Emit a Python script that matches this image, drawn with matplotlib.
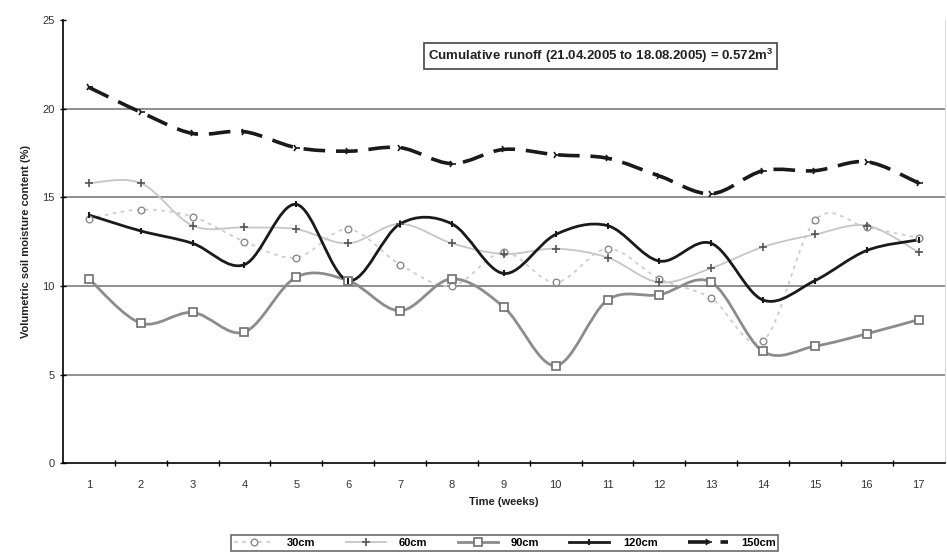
import numpy as np
import matplotlib
matplotlib.use("Agg")
import matplotlib.pyplot as plt
from matplotlib.path import Path
from matplotlib.patches import PathPatch
from matplotlib.lines import Line2D

weeks = list(range(1, 18))
s30 = [13.8, 14.3, 13.9, 12.5, 11.6, 13.2, 11.2, 10.0, 11.9, 10.2, 12.1, 10.4, 9.3, 6.9, 13.7, 13.3, 12.7]
s60 = [15.8, 15.8, 13.4, 13.3, 13.2, 12.4, 13.5, 12.4, 11.8, 12.1, 11.6, 10.2, 11.0, 12.2, 12.9, 13.4, 11.9]
s90 = [10.4, 7.9, 8.5, 7.4, 10.5, 10.3, 8.6, 10.4, 8.8, 5.5, 9.2, 9.5, 10.2, 6.3, 6.6, 7.3, 8.1]
s120 = [14.0, 13.1, 12.4, 11.2, 14.6, 10.3, 13.5, 13.5, 10.7, 12.9, 13.4, 11.4, 12.4, 9.2, 10.3, 12.0, 12.6]
s150 = [21.2, 19.8, 18.6, 18.7, 17.8, 17.6, 17.8, 16.9, 17.7, 17.4, 17.2, 16.2, 15.2, 16.5, 16.5, 17.0, 15.8]
labels = ["30cm", "60cm", "90cm", "120cm", "150cm"]
yticks = [0, 5, 10, 15, 20, 25]
note = "Cumulative runoff (21.04.2005 to 18.08.2005) = 0.572m$^3$"

plt.rcParams['font.family'] = ['Liberation Sans', 'DejaVu Sans']
plt.rcParams['mathtext.fontset'] = 'custom'
plt.rcParams['mathtext.rm'] = 'Liberation Sans:bold'
plt.rcParams['mathtext.default'] = 'rm'

fig = plt.figure(figsize=(9.47, 5.56), dpi=100)
ax = fig.add_axes([0.0665, 0.167, 0.931, 0.797])


def smooth_path(x, y):
    # Excel-like smoothed line: cubic Bezier segments with Catmull-Rom control points
    x = np.asarray(x, float); y = np.asarray(y, float)
    n = len(x)
    verts = [(x[0], y[0])]
    codes = [Path.MOVETO]
    for i in range(n - 1):
        p0 = np.array([x[max(i - 1, 0)], y[max(i - 1, 0)]])
        p1 = np.array([x[i], y[i]])
        p2 = np.array([x[i + 1], y[i + 1]])
        p3 = np.array([x[min(i + 2, n - 1)], y[min(i + 2, n - 1)]])
        c1 = p1 + (p2 - p0) / 6.0
        c2 = p2 - (p3 - p1) / 6.0
        verts += [tuple(c1), tuple(c2), tuple(p2)]
        codes += [Path.CURVE4] * 3
    return Path(verts, codes)


styles = [
    dict(color='#cdcdcd', lw=1.3, ls=(0, (2, 2.5)), marker='o', ms=4.8, mfc='white', mec='#8a8a8a', mew=1.0),
    dict(color='#c6c6c6', lw=1.3, ls='-', marker='+', ms=6, mfc='none', mec='#555555', mew=1.2),
    dict(color='#8c8c8c', lw=2.0, ls='-', marker='s', ms=5.2, mfc='white', mec='#707070', mew=1.2),
    dict(color='#1a1a1a', lw=2.0, ls='-', marker='|', ms=5, mfc='#1a1a1a', mec='#1a1a1a', mew=1.5),
    dict(color='#1a1a1a', lw=2.6, ls=(0, (6, 3)), marker='4', ms=6, mfc='#1a1a1a', mec='#1a1a1a', mew=1.2),
]
series = [s30, s60, s90, s120, s150]

for yv in yticks[1:-1]:
    ax.axhline(yv, color='#8f8f8f', lw=1.4, zorder=1)

handles = []
for vals, st in zip(series, styles):
    patch = PathPatch(smooth_path(weeks, vals), facecolor='none', edgecolor=st['color'],
                      lw=st['lw'], linestyle=st['ls'], zorder=3, capstyle='butt')
    ax.add_patch(patch)
    ax.plot(weeks, vals, linestyle='none', marker=st['marker'], ms=st['ms'], mfc=st['mfc'],
            mec=st['mec'], mew=st['mew'], zorder=4)
    handles.append(Line2D([], [], color=st['color'], lw=st['lw'], linestyle=st['ls'],
                          marker=st['marker'], ms=st['ms'], mfc=st['mfc'], mec=st['mec'], mew=st['mew']))

ax.set_xlim(0.5, 17.5)
ax.set_ylim(0, 25)
ax.set_yticks(yticks)
ax.set_xticks(weeks)
ax.set_xticks(np.arange(1.5, 17.5, 1), minor=True)
ax.tick_params(axis='x', which='major', length=0, labelsize=8, pad=12)
ax.tick_params(axis='x', which='minor', length=5, direction='inout', width=1)
ax.tick_params(axis='y', which='major', length=5, direction='inout', labelsize=8, width=1)
for lab in ax.get_xticklabels() + ax.get_yticklabels():
    lab.set_color('#333333')

ax.spines['top'].set_visible(False)
ax.spines['right'].set_color('#dddddd')
ax.spines['left'].set_linewidth(1.2)
ax.spines['bottom'].set_linewidth(1.2)

ax.set_xlabel("Time (weeks)", fontsize=8, fontweight='bold', labelpad=5, color='#222222')
ax.set_ylabel("Volumetric soil moisture content (%)", fontsize=8, fontweight='bold', labelpad=8, color='#222222')

ax.text(0.61, 0.918, note, transform=ax.transAxes, ha='center', va='center', fontsize=9.5,
        fontweight='bold', color='#222222',
        bbox=dict(boxstyle='square,pad=0.3', facecolor='white', edgecolor='#444444', lw=1.2), zorder=6)

leg = fig.legend(handles, labels, loc='center', bbox_to_anchor=(0.533, 0.023), ncol=5,
                 fontsize=8, frameon=True, fancybox=False, edgecolor='#444444',
                 handlelength=3.6, columnspacing=2.7, borderpad=0.25, handletextpad=1.2)
leg.get_frame().set_linewidth(1.2)
for t in leg.get_texts():
    t.set_fontweight('bold')

fig.savefig("out.png", dpi=100)
